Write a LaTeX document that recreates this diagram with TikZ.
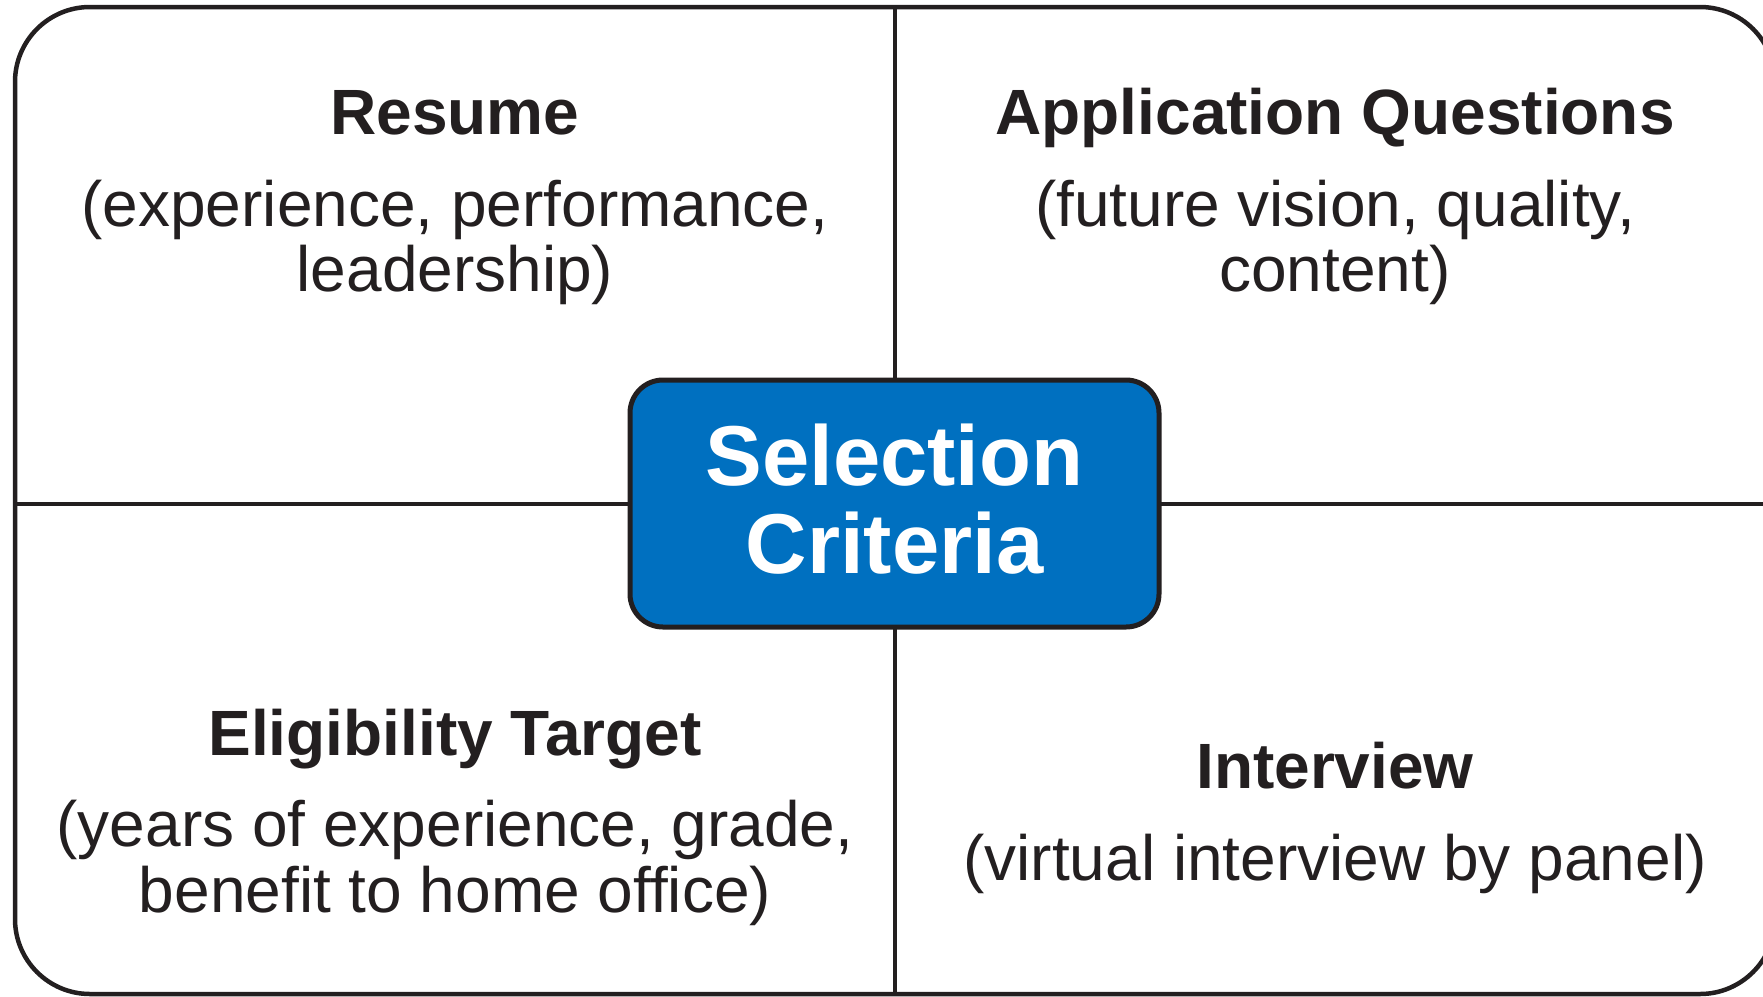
\documentclass[tikz,border=0pt]{standalone}
\usepackage{fontspec}
\setmainfont{Liberation Sans}
\definecolor{ink}{HTML}{231F20}
\definecolor{scblue}{HTML}{0070C0}
\tikzset{
  frame/.style={draw=ink, line width=4.5pt},
  divider/.style={draw=ink, line width=4.5pt},
  centerbox/.style={draw=ink, fill=scblue, line width=5pt, rounded corners=33pt,
    minimum width=529pt, minimum height=247pt, inner sep=0pt},
  titletext/.style={anchor=base, inner sep=0pt, text=ink, font=\fontsize{64pt}{64pt}\selectfont\bfseries},
  bodytext/.style={anchor=base, inner sep=0pt, text=ink, font=\fontsize{64pt}{64pt}\selectfont},
  boxtext/.style={anchor=base, inner sep=0pt, text=white, font=\fontsize{85pt}{88pt}\selectfont\bfseries},
}
\begin{document}
\begin{tikzpicture}[x=1pt, y=-1pt]
\useasboundingbox (0,0) rectangle (1763,996);
\clip (0,0) rectangle (1763,996);
\fill[white] (0,0) rectangle (1763,996);
% outer frame
\draw[frame, rounded corners=75pt] (15,7) rectangle (1775,994);
% dividers
\coordinate (vt) at (895,7);
\coordinate (vb) at (895,994);
\coordinate (hl) at (15,504);
\coordinate (hr) at (1775,504);
\draw[divider] (vt) -- (vb);
\draw[divider] (hl) -- (hr);
% center box
\node[centerbox] (sc) at (894.5,503.5) {};
\node[boxtext] (sc1) at (894.5,485) {Selection};
\node[boxtext] (sc2) at (894.5,573) {Criteria};
% top-left
\node[titletext] (res) at (455,134) {Resume};
\node[bodytext] (res1) at (455,226) {(experience, performance,};
\node[bodytext] (res2) at (455,291) {leadership)};
% top-right
\node[titletext] (app) at (1335,134) {Application Questions};
\node[bodytext] (app1) at (1335,226) {(future vision, quality,};
\node[bodytext] (app2) at (1335,291) {content)};
% bottom-left
\node[titletext] (eli) at (455,755) {Eligibility Target};
\node[bodytext] (eli1) at (455,846) {(years of experience, grade,};
\node[bodytext] (eli2) at (455,912) {benefit to home office)};
% bottom-right
\node[titletext] (int) at (1335,788) {Interview};
\node[bodytext] (int1) at (1335,880) {(virtual interview by panel)};
\end{tikzpicture}
\end{document}
